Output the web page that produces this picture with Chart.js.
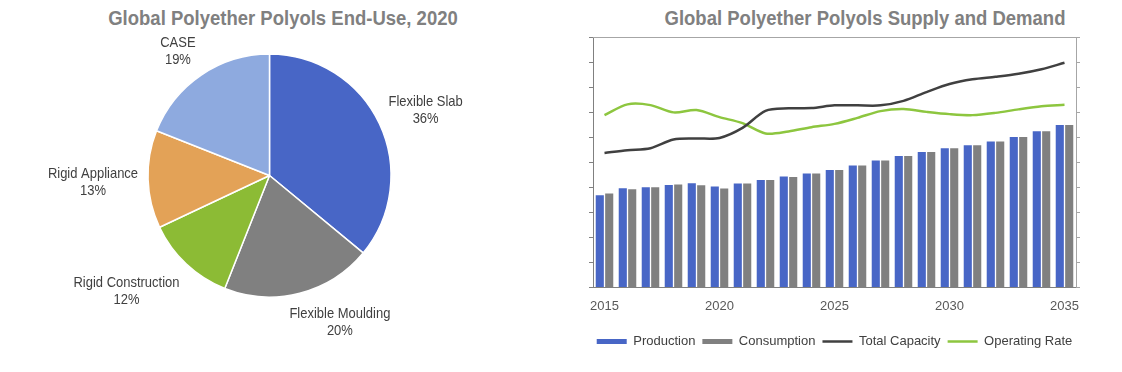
<!DOCTYPE html>
<html>
<head>
<meta charset="utf-8">
<script src="https://cdn.jsdelivr.net/npm/chart.js@4.4.1/dist/chart.umd.min.js"></script>
<style>
  html, body { margin: 0; padding: 0; background: #fff; }
  #wrap { position: relative; width: 1122px; height: 372px; overflow: hidden; }
  .title {
    position: absolute; top: 8px; transform: translateX(-50%) scaleX(0.925); transform-origin: center;
    white-space: nowrap; font: bold 20px/20px 'Liberation Sans', Arial, sans-serif;
    color: #808080;
  }
  #pieBox { position: absolute; left: 0; top: 0; width: 560px; height: 372px; }
  #barBox { position: absolute; left: 560px; top: 0; width: 562px; height: 372px; }
</style>
</head>
<body>
<div id="wrap">
  <div class="title" style="left:283px">Global Polyether Polyols End-Use, 2020</div>
  <div class="title" style="left:865px">Global Polyether Polyols Supply and Demand</div>
  <div id="pieBox"><canvas id="pieChart"></canvas></div>
  <div id="barBox"><canvas id="supplyChart"></canvas></div>
</div>
<script>
const FONT = "'Liberation Sans', Arial, sans-serif";
const TEXT_COLOR = '#404040';

// End-use shares, 2020 (%)
const endUseLabels = ['Flexible Slab', 'Flexible Moulding', 'Rigid Construction', 'Rigid Appliance', 'CASE'];
const endUseShares = [36, 20, 12, 13, 19];
const endUseColors = ['#4866C6', '#808080', '#8CBB35', '#E3A257', '#8EAADF'];

// Supply and demand
const years = ['2015', '2016', '2017', '2018', '2019', '2020', '2021', '2022', '2023', '2024', '2025',
               '2026', '2027', '2028', '2029', '2030', '2031', '2032', '2033', '2034', '2035'];
const production = [3.68, 3.96, 4.00, 4.09, 4.16, 4.03, 4.15, 4.29, 4.43, 4.55, 4.69,
                     4.87, 5.07, 5.25, 5.41, 5.56, 5.68, 5.83, 6.01, 6.24, 6.49];
const consumption = [3.75, 3.92, 4.00, 4.11, 4.08, 3.95, 4.15, 4.29, 4.41, 4.55, 4.69,
                     4.87, 5.07, 5.25, 5.41, 5.56, 5.68, 5.83, 6.01, 6.24, 6.49];
const totalCapacity = [5.37, 5.48, 5.56, 5.91, 5.95, 5.97, 6.37, 7.05, 7.15, 7.16, 7.27,
                       7.27, 7.27, 7.45, 7.80, 8.12, 8.31, 8.41, 8.53, 8.71, 8.97];
const operatingRate = [68.8, 73.1, 72.8, 69.9, 70.8, 68.0, 65.6, 61.5, 62.3, 64.0, 65.3,
                       67.7, 70.4, 71.2, 70.1, 69.2, 68.8, 69.7, 71.1, 72.3, 72.9];

// Pie labels outside each slice, two lines: name and percent (condensed text)
const NARROW = 0.865;
const pieLabels = {
    id: 'pieLabels',
    afterDatasetsDraw(chart) {
        const ctx = chart.ctx;
        const arcs = chart.getDatasetMeta(0).data;
        const clamp = (v) => Math.max(-1, Math.min(1, v));
        ctx.save();
        ctx.font = '15px ' + FONT;
        ctx.fillStyle = TEXT_COLOR;
        ctx.textAlign = 'center';
        ctx.textBaseline = 'middle';
        arcs.forEach((arc, i) => {
            const mid = (arc.startAngle + arc.endAngle) / 2;
            const lines = [endUseLabels[i], endUseShares[i] + '%'];
            const w = Math.max(...lines.map(t => ctx.measureText(t).width)) * NARROW;
            const h = 35;
            const r = arc.outerRadius + 10;
            const px = arc.x + Math.cos(mid) * r;
            const py = arc.y + Math.sin(mid) * r;
            const cx = px + w / 2 * clamp(3 * Math.cos(mid));
            const cy = py + h / 2 * clamp(1.5 * Math.sin(mid)) + 2;
            lines.forEach((t, k) => {
                ctx.save();
                ctx.translate(cx, cy + (k === 0 ? -8.5 : 8.5));
                ctx.scale(NARROW, 1);
                ctx.fillText(t, 0, 0);
                ctx.restore();
            });
        });
        ctx.restore();
    }
};

new Chart(document.getElementById('pieChart'), {
    type: 'pie',
    data: {
        labels: endUseLabels,
        datasets: [{
            data: endUseShares,
            backgroundColor: endUseColors,
            borderColor: '#ffffff',
            borderWidth: 1.5
        }]
    },
    options: {
        responsive: true,
        maintainAspectRatio: false,
        animation: false,
        radius: 121.5,
        layout: { padding: { left: 148, right: 169, top: 54, bottom: 75 } },
        plugins: {
            legend: { display: false },
            tooltip: { enabled: false }
        }
    },
    plugins: [pieLabels]
});

// Top border of the plot area
const topBorder = {
    id: 'topBorder',
    afterDraw(chart) {
        const { ctx, chartArea } = chart;
        ctx.save();
        ctx.strokeStyle = '#A6A6A6';
        ctx.lineWidth = 1;
        ctx.beginPath();
        ctx.moveTo(chartArea.left, chartArea.top + 0.5);
        ctx.lineTo(chartArea.right, chartArea.top + 0.5);
        ctx.stroke();
        ctx.restore();
    }
};

const axisFont = { family: FONT, size: 13 };

new Chart(document.getElementById('supplyChart'), {
    type: 'bar',
    data: {
        labels: years,
        datasets: [
            { label: 'Production', data: production, backgroundColor: '#4866C6', yAxisID: 'y',
              categoryPercentage: 0.82, barPercentage: 0.86, pointStyle: 'rect' },
            { label: 'Consumption', data: consumption, backgroundColor: '#808080', yAxisID: 'y',
              categoryPercentage: 0.82, barPercentage: 0.86, pointStyle: 'rect' },
            { type: 'line', label: 'Total Capacity', data: totalCapacity, borderColor: '#404040',
              backgroundColor: '#404040', borderWidth: 2.5, pointRadius: 0, tension: 0.3,
              yAxisID: 'y', pointStyle: 'line' },
            { type: 'line', label: 'Operating Rate', data: operatingRate, borderColor: '#8DC63F',
              backgroundColor: '#8DC63F', borderWidth: 2.5, pointRadius: 0, tension: 0.3,
              yAxisID: 'y1', pointStyle: 'line' }
        ]
    },
    options: {
        responsive: true,
        maintainAspectRatio: false,
        animation: false,
        layout: { padding: { left: 18, right: 31, top: 37, bottom: 14 } },
        scales: {
            x: {
                offset: true,
                grid: { display: false, drawTicks: false },
                border: { display: true, color: '#808080', width: 1 },
                ticks: {
                    autoSkip: false, maxRotation: 0, padding: 11,
                    font: axisFont, color: '#595959',
                    callback: (v, i) => (Number(years[i]) % 5 === 0 ? years[i] : '')
                },
                afterFit: (scale) => { scale.height += 3; }
            },
            y: {
                position: 'left', min: 0, max: 10,
                ticks: { display: false, stepSize: 1 },
                grid: { drawOnChartArea: false, drawTicks: true, tickLength: 4, color: '#808080' },
                border: { display: true, color: '#808080' },
                afterFit: (scale) => { scale.width += 11; }
            },
            y1: {
                position: 'right', min: 0, max: 100,
                ticks: { display: false, stepSize: 10 },
                grid: { drawOnChartArea: false, drawTicks: true, tickLength: 4, color: '#A6A6A6' },
                border: { display: true, color: '#A6A6A6' },
                afterFit: (scale) => { scale.width += 11; }
            }
        },
        plugins: {
            legend: {
                position: 'bottom',
                labels: {
                    usePointStyle: true, pointStyleWidth: 30, boxHeight: 5, padding: 7,
                    font: axisFont, color: TEXT_COLOR
                }
            },
            tooltip: { enabled: false }
        }
    },
    plugins: [topBorder]
});
</script>
</body>
</html>
